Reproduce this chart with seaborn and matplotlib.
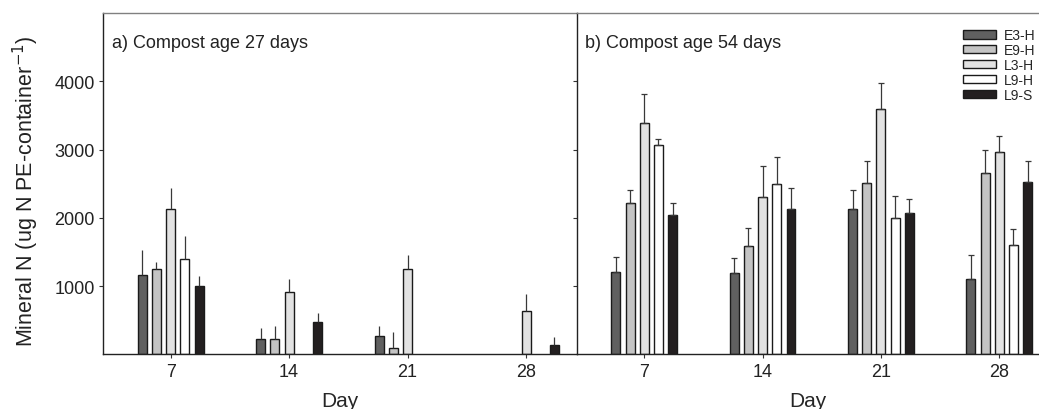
import numpy as np
import matplotlib
matplotlib.use('Agg')
import matplotlib.pyplot as plt
import pandas as pd
import seaborn as sns

days = ['7', '14', '21', '28']
treatments = ['E3-H', 'E9-H', 'L3-H', 'L9-H', 'L9-S']
colors = ['#606060', '#c4c4c4', '#e2e2e2', '#ffffff', '#231f20']

# compost age 27 days, rows = treatment, cols = day (nan = no bar)
mean_27 = {
    'E3-H': [1157, 220, 264, np.nan],
    'E9-H': [1254, 229, 88, np.nan],
    'L3-H': [2123, 908, 1249, 630],
    'L9-H': [1401, np.nan, np.nan, np.nan],
    'L9-S': [996, 469, np.nan, 137],
}
err_27 = {
    'E3-H': [375, 161, 156, np.nan],
    'E9-H': [93, 186, 234, np.nan],
    'L3-H': [312, 190, 200, 253],
    'L9-H': [332, np.nan, np.nan, np.nan],
    'L9-S': [151, 136, np.nan, 112],
}

# compost age 54 days
mean_54 = {
    'E3-H': [1210, 1186, 2123, 1103],
    'E9-H': [2221, 1581, 2508, 2660],
    'L3-H': [3382, 2308, 3587, 2962],
    'L9-H': [3070, 2489, 2001, 1606],
    'L9-S': [2035, 2123, 2069, 2523],
}
err_54 = {
    'E3-H': [220, 220, 283, 346],
    'E9-H': [190, 264, 318, 332],
    'L3-H': [434, 445, 390, 230],
    'L9-H': [78, 400, 312, 229],
    'L9-S': [176, 312, 205, 303],
}


def to_df(means):
    rows = []
    for t in treatments:
        for d, v in zip(days, means[t]):
            rows.append({'Day': d, 'trt': t, 'N': v})
    return pd.DataFrame(rows)


sns.set_style('ticks')
plt.rcParams['font.family'] = ['Liberation Sans', 'DejaVu Sans']

fig = plt.figure(figsize=(10.39, 4.10), dpi=100)
ax1 = fig.add_axes([0.0994, 0.1334, 0.4559, 0.8324])
ax2 = fig.add_axes([0.5553, 0.1334, 0.4447, 0.8324])

pal = dict(zip(treatments, colors))

for ax, means, errs, title, caps in [(ax1, mean_27, err_27, 'a) Compost age 27 days', 0),
                                     (ax2, mean_54, err_54, 'b) Compost age 54 days', 2.2)]:
    df = to_df(means)
    sns.barplot(data=df, x='Day', y='N', hue='trt', order=days, hue_order=treatments,
                palette=pal, width=0.6, gap=0.37, errorbar=None, edgecolor='#1a1a1a',
                linewidth=1.0, saturation=1, legend=(ax is ax2), ax=ax)
    # error bars (upper only)
    for t, cont in zip(treatments, ax.containers):
        for bar in cont:
            xc = bar.get_x() + bar.get_width() / 2
            i = int(round(xc))
            e = errs[t][i]
            h = bar.get_height()
            if np.isnan(e) or np.isnan(h):
                continue
            ax.errorbar(xc, h, yerr=[[0], [e]], fmt='none', ecolor='#383838',
                        elinewidth=0.9, capsize=caps, capthick=0.9, zorder=1)
    ax.set_ylim(0, 5000)
    ax.set_yticks([1000, 2000, 3000, 4000])
    ax.set_xlabel('Day', fontsize=15, labelpad=8)
    ax.set_ylabel('')
    ax.text(0.018, 0.9, title, transform=ax.transAxes, fontsize=13, color='#222222')
    ax.tick_params(axis='both', length=3, width=0.8, color='#333333', labelsize=13,
                   labelcolor='#222222', pad=3)
    for s in ['left', 'bottom']:
        ax.spines[s].set_color('#222222')
        ax.spines[s].set_linewidth(1.0)
    ax.spines['top'].set_visible(True)
    ax.spines['top'].set_color('#808080')
    ax.spines['top'].set_linewidth(1.0)
    ax.spines['right'].set_visible(False)

ax1.set_xlim(-0.569, 3.43)
ax2.set_xlim(-0.569, 3.336)
ax2.set_yticklabels([])

leg = ax2.legend(loc='upper left', bbox_to_anchor=(0.8355, 0.955), frameon=False,
                 fontsize=10, handlelength=2.4, handleheight=0.55, labelspacing=0.06,
                 handletextpad=0.55, borderpad=0, borderaxespad=0)
for h in leg.legend_handles:
    h.set_edgecolor('#1a1a1a')
    h.set_linewidth(1.0)

fig.text(0.025, 0.533, 'Mineral N (ug N PE-container$^{-1}$)', rotation=90,
         ha='center', va='center', fontsize=15.5, color='#222222')

fig.savefig('out.png', dpi=100)
